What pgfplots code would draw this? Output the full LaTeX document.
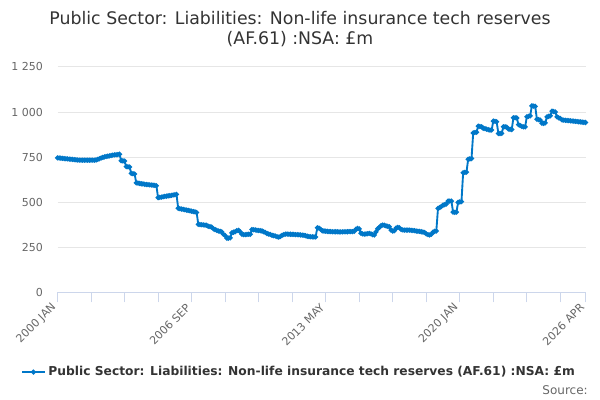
\documentclass[border=0pt]{standalone}
\usepackage{fontspec}
\setmainfont{DejaVu Sans}
\usepackage{pgfplots}
\usepackage{pgfplotstable}
\pgfplotsset{compat=1.18}
\definecolor{series}{HTML}{0077C8}
\definecolor{ctitle}{HTML}{333333}
\definecolor{ctick}{HTML}{666666}
\definecolor{cgrid}{HTML}{E6E6E6}
\definecolor{caxis}{HTML}{CCD6EB}
\pgfplotstableread{
m v
0 746
1 745
2 744
3 743
4 742
5 741
6 740
7 739
8 738
9 737
10 736
11 735
12 734
13 733
14 733
15 733
16 733
17 733
18 733
19 733
20 733
21 733
22 733
23 734
24 737
25 741
26 745
27 748
28 751
29 753
30 755
31 757
32 759
33 761
34 762
35 763
36 764
37 766
38 730
39 729
40 728
41 697
42 696
43 695
44 660
45 658
46 656
47 607
48 606
49 604
50 602
51 601
52 599
53 598
54 597
55 596
56 595
57 594
58 593
59 591
60 525
61 527
62 528
63 530
64 532
65 533
66 535
67 536
68 538
69 540
70 541
71 543
72 466
73 464
74 462
75 460
76 458
77 456
78 454
79 452
80 450
81 448
82 446
83 443
84 377
85 376
86 375
87 374
88 373
89 372
90 366
91 364
92 362
93 352
94 348
95 344
96 340
97 338
98 335
99 322
100 315
101 300
102 300
103 302
104 330
105 333
106 336
107 342
108 344
109 335
110 322
111 320
112 320
113 321
114 322
115 322
116 348
117 347
118 346
119 344
120 343
121 342
122 340
123 336
124 332
125 326
126 323
127 321
128 316
129 314
130 312
131 308
132 306
133 310
134 316
135 320
136 323
137 323
138 322
139 322
140 321
141 321
142 320
143 320
144 319
145 318
146 317
147 316
148 314
149 311
150 309
151 308
152 308
153 307
154 307
155 358
156 356
157 350
158 341
159 340
160 339
161 338
162 337
163 337
164 336
165 336
166 336
167 336
168 335
169 335
170 335
171 336
172 336
173 336
174 337
175 337
176 337
177 338
178 350
179 354
180 352
181 328
182 324
183 323
184 324
185 325
186 327
187 324
188 320
189 318
190 335
191 352
192 360
193 370
194 373
195 372
196 368
197 366
198 364
199 345
200 340
201 342
202 356
203 360
204 358
205 348
206 346
207 345
208 345
209 345
210 345
211 344
212 343
213 342
214 340
215 339
216 338
217 336
218 334
219 332
220 324
221 320
222 318
223 322
224 334
225 338
226 340
227 466
228 470
229 476
230 484
231 486
232 490
233 506
234 506
235 506
236 445
237 443
238 445
239 499
240 501
241 503
242 663
243 665
244 667
245 738
246 740
247 742
248 884
249 886
250 888
251 922
252 920
253 918
254 910
255 908
256 905
257 902
258 900
259 900
260 950
261 948
262 946
263 881
264 881
265 882
266 918
267 918
268 916
269 906
270 904
271 903
272 968
273 968
274 967
275 930
276 925
277 920
278 918
279 918
280 974
281 976
282 979
283 1034
284 1033
285 1032
286 960
287 958
288 955
289 938
290 937
291 940
292 973
293 976
294 979
295 1005
296 1003
297 1000
298 973
299 968
300 964
301 956
302 955
303 954
304 953
305 952
306 951
307 950
308 949
309 948
310 947
311 946
312 945
313 944
314 943
315 942
}\datatable
\begin{document}
\begin{tikzpicture}
\path[use as bounding box] (0pt,0pt) rectangle (450pt,300pt);
\node[anchor=base, font=\fontsize{13}{15}\selectfont, text=ctitle, inner sep=0pt] at (225pt,281.8pt) {Public Sector: Liabilities: Non-life insurance tech reserves};
\node[anchor=base, font=\fontsize{13}{15}\selectfont, text=ctitle, inner sep=0pt] at (225pt,266.8pt) {(AF.61) :NSA: £m};
\begin{axis}[
  at={(43.125pt,80.775pt)}, anchor=south west,
  scale only axis, width=396pt, height=169pt,
  xmin=0, xmax=315, ymin=0, ymax=1250,
  axis x line=bottom, axis y line=left,
  x axis line style={-, draw=caxis, line width=0.75pt},
  y axis line style={draw=none},
  xtick={0,20,...,300,315},
  xticklabels={2000 JAN,,,,2006 SEP,,,,2013 MAY,,,,2020 JAN,,,,2026 APR},
  x tick style={draw=caxis, line width=0.75pt},
  tick align=outside, major tick length=7.5pt,
  ytick={0,250,500,750,1000,1250},
  yticklabels={0,250,500,750,1 000,1 250},
  y tick style={draw=none},
  ymajorgrids, grid style={draw=cgrid, line width=0.75pt},
  tick label style={font=\fontsize{8.25}{10}\selectfont, text=ctick},
  xticklabel style={rotate=45, anchor=east},
  /pgf/number format/assume math mode=true,
  clip=false,
  legend style={at={(0.458,-0.354)}, anchor=center, draw=none, fill=none,
    font=\bfseries\fontsize{9.2}{11}\selectfont, text=ctitle, inner sep=0pt},
  legend cell align=left,
]
\addplot[color=series, line width=1.4pt, mark=*, mark size=1.1pt, mark options={solid}] table[x=m, y=v] {\datatable};
\addlegendentry{Public Sector: Liabilities: Non-life insurance tech reserves (AF.61) :NSA: £m}
\end{axis}
\node[anchor=base east, font=\fontsize{9}{11}\selectfont, text=ctick, inner sep=0pt] at (441pt,4.5pt) {Source:};
\end{tikzpicture}
\end{document}
